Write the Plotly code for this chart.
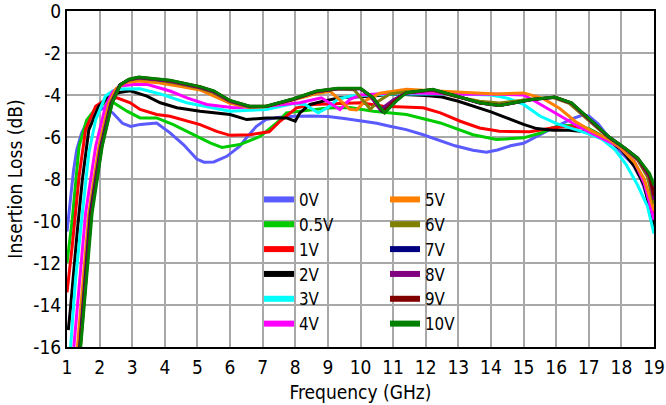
import plotly.graph_objects as go

# ---------------- data ----------------
names = ["0V", "0.5V", "1V", "2V", "3V", "4V", "5V", "6V", "7V", "8V", "9V", "10V"]
colors = ["#5A5AFF", "#00CC00", "#FF0000", "#000000", "#00FFFF", "#FF00FF",
          "#FF8000", "#808000", "#000080", "#800080", "#800000", "#008000"]

f_0V = [1.0, 1.1, 1.2, 1.3, 1.45, 1.65, 1.9, 2.15, 2.4, 2.7, 2.95, 3.25, 3.75, 4.16, 4.57, 4.98,
        5.2, 5.5, 5.9, 6.3, 6.5, 6.8, 7.1, 7.45, 7.95, 8.5, 9.0, 9.5, 10.0, 10.5, 10.9, 11.4,
        11.9, 12.4, 12.9, 13.45, 13.86, 14.2, 14.6, 15.0, 15.3, 15.6, 15.9, 16.2, 16.5, 16.8,
        17.0, 17.3, 17.6, 17.9, 18.35, 18.6, 18.8, 19.0]
il_0V = [-10.5, -9.0, -7.6, -6.6, -5.8, -5.2, -4.8, -4.6, -4.85, -5.35, -5.5, -5.4, -5.33, -5.8,
         -6.36, -7.05, -7.2, -7.19, -6.92, -6.44, -6.04, -5.5, -5.17, -5.07, -5.01, -5.0, -5.02,
         -5.12, -5.22, -5.35, -5.49, -5.65, -5.88, -6.15, -6.42, -6.63, -6.72, -6.62, -6.42,
         -6.3, -6.05, -5.8, -5.57, -5.35, -5.12, -4.97, -5.0, -5.4, -6.0, -6.6, -7.3, -8.0,
         -8.9, -10.4]

f_05V = [1.0, 1.16, 1.37, 1.6, 1.9, 2.2, 2.43, 2.84, 3.24, 3.75, 4.26, 4.88, 5.39, 5.75, 6.3,
         6.92, 7.43, 7.73, 8.14, 9.0, 9.67, 10.39, 11.41, 12.45, 13.45, 14.17, 15.0, 15.55,
         15.87, 16.2, 16.6, 17.0, 17.3, 17.6, 18.0, 18.4, 18.7, 19.0]
il_05V = [-12.0, -9.95, -6.44, -5.2, -4.6, -4.35, -4.37, -4.77, -5.09, -5.09, -5.41, -5.89,
          -6.28, -6.5, -6.36, -5.97, -5.33, -4.85, -4.77, -4.62, -4.6, -4.77, -4.93, -5.33,
          -5.89, -6.12, -6.04, -5.8, -5.57, -5.45, -5.45, -5.6, -5.85, -6.15, -6.6, -7.3,
          -8.2, -10.1]

f_1V = [1.0, 1.16, 1.37, 1.57, 1.88, 2.2, 2.53, 2.94, 3.24, 3.75, 4.16, 4.67, 5.08, 5.59, 6.0,
        6.61, 7.02, 7.2, 7.53, 8.04, 8.55, 9.2, 9.67, 10.0, 10.7, 11.92, 12.45, 13.06, 13.65,
        14.26, 15.2, 15.87, 16.3, 16.8, 17.2, 17.6, 18.0, 18.4, 18.7, 19.0]
il_1V = [-13.4, -11.2, -7.88, -5.65, -4.53, -4.2, -4.13, -4.37, -4.69, -4.93, -5.01, -5.25,
         -5.41, -5.73, -5.92, -5.89, -5.8, -5.75, -5.25, -4.61, -4.45, -4.4, -4.37, -4.37,
         -4.53, -4.61, -4.85, -5.25, -5.57, -5.73, -5.75, -5.57, -5.5, -5.55, -5.8, -6.15,
         -6.6, -7.3, -8.1, -9.8]

f_2V = [1.04, 1.11, 1.32, 1.47, 1.67, 1.98, 2.3, 2.6, 2.94, 3.45, 3.86, 4.37, 5.08, 6.0, 6.51,
        7.12, 7.73, 8.0, 8.14, 8.45, 8.86, 9.37, 10.39, 11.0, 12.0, 12.5, 13.0, 13.5, 14.0,
        14.5, 15.0, 15.4, 15.9, 16.4, 16.9, 17.3, 17.6, 18.0, 18.4, 18.7, 19.0]
il_2V = [-15.2, -14.1, -10.4, -8.04, -5.65, -4.53, -4.05, -3.88, -3.8, -4.05, -4.37, -4.61,
         -4.77, -4.93, -5.17, -5.09, -5.09, -5.25, -4.85, -4.45, -4.29, -4.13, -4.05, -3.95,
         -4.02, -4.1, -4.3, -4.55, -4.8, -5.1, -5.4, -5.6, -5.68, -5.68, -5.75, -5.95, -6.15,
         -6.6, -7.4, -8.3, -10.3]

f_3V = [1.11, 1.26, 1.47, 1.67, 1.88, 2.18, 2.4, 2.63, 3.24, 3.86, 4.67, 5.29, 6.0, 7.12, 7.94,
        8.3, 8.7, 9.0, 9.3, 9.7, 10.2, 11.0, 12.0, 13.0, 14.0, 14.5, 15.0, 15.5, 16.0, 16.5,
        17.0, 17.4, 17.8, 18.14, 18.5, 18.8, 19.0]
il_3V = [-16.0, -12.8, -9.63, -6.76, -5.17, -4.05, -3.8, -3.72, -3.7, -3.95, -4.37, -4.55,
         -4.77, -4.69, -4.41, -4.45, -4.85, -4.6, -4.2, -4.05, -4.0, -3.95, -3.95, -3.95, -4.0,
         -4.15, -4.45, -5.0, -5.35, -5.6, -5.85, -6.1, -6.6, -7.3, -8.3, -9.3, -10.6]

f_4V = [1.21, 1.57, 1.88, 2.18, 2.4, 2.63, 3.04, 3.45, 4.16, 4.7, 5.29, 6.1, 7.12, 8.14, 8.8,
        9.06, 9.37, 9.67, 10.0, 10.5, 11.1, 12.0, 13.14, 14.0, 15.0, 15.3, 15.7, 16.05, 16.67,
        17.28, 17.9, 18.4, 18.7, 19.0]
il_4V = [-16.0, -9.63, -6.44, -4.53, -3.85, -3.57, -3.5, -3.49, -3.81, -4.15, -4.45, -4.61,
         -4.53, -4.37, -4.13, -4.37, -4.69, -4.21, -4.0, -3.95, -3.89, -3.92, -3.97, -3.95,
         -4.0, -4.25, -4.6, -4.93, -5.49, -5.97, -6.44, -7.16, -8.2, -9.95]

f_5V = [1.32, 1.67, 1.98, 2.29, 2.5, 2.8, 3.2, 3.8, 4.5, 5.08, 6.0, 6.6, 7.1, 7.9, 8.6, 9.06,
        9.37, 9.67, 9.88, 10.18, 10.59, 11.41, 12.2, 13.0, 14.17, 15.0, 15.59, 16.1, 16.6,
        17.12, 17.6, 18.0, 18.4, 18.7, 19.0]
il_5V = [-16.0, -9.63, -6.44, -4.37, -3.7, -3.4, -3.33, -3.42, -3.6, -3.76, -4.4, -4.6, -4.55,
         -4.25, -3.95, -3.82, -4.24, -4.68, -4.71, -4.24, -3.92, -3.73, -3.8, -3.85, -3.95,
         -3.9, -4.16, -4.63, -5.27, -5.75, -6.1, -6.55, -7.2, -8.0, -9.5]

f_6V = [1.38, 1.7, 2.02, 2.33, 2.6, 2.9, 3.2, 3.7, 4.2, 5.08, 5.5, 6.0, 6.6, 7.1, 7.94, 8.65,
        9.3, 9.8, 10.05, 10.3, 10.55, 10.9, 11.4, 12.2, 12.94, 13.65, 14.26, 15.2, 15.9, 16.4,
        17.1, 17.6, 18.1, 18.5, 18.8, 19.0]
il_6V = [-16.0, -9.63, -6.44, -4.4, -3.55, -3.3, -3.22, -3.28, -3.4, -3.68, -3.9, -4.32,
         -4.58, -4.56, -4.22, -3.86, -3.72, -3.75, -4.2, -4.68, -4.3, -3.95, -3.85, -3.78,
         -4.08, -4.3, -4.38, -4.2, -4.12, -4.4, -5.35, -6.02, -6.55, -7.1, -7.9, -9.2]

f_7V = [1.39, 1.72, 2.04, 2.35, 2.62, 2.9, 3.2, 3.6, 4.16, 5.08, 5.5, 6.0, 6.6, 7.1, 7.94,
        8.65, 9.3, 10.0, 10.35, 10.65, 11.0, 11.4, 12.2, 12.94, 13.65, 14.26, 15.24, 15.96,
        16.47, 17.1, 17.6, 18.1, 18.5, 18.86, 19.0]
il_7V = [-16.0, -9.63, -6.44, -4.4, -3.52, -3.27, -3.17, -3.23, -3.33, -3.63, -3.83, -4.28,
         -4.55, -4.55, -4.2, -3.83, -3.7, -3.7, -4.1, -4.75, -4.25, -3.9, -3.75, -4.06, -4.38,
         -4.5, -4.23, -4.11, -4.38, -5.27, -5.98, -6.52, -7.0, -7.8, -8.7]

f_8V = [1.40, 1.74, 2.05, 2.36, 2.63, 2.9, 3.2, 3.6, 4.16, 5.08, 5.5, 6.0, 6.6, 7.1, 7.94,
        8.65, 9.3, 10.0, 10.3, 10.6, 10.95, 11.4, 12.2, 12.94, 13.65, 14.26, 15.24, 15.96,
        16.47, 17.1, 17.6, 18.1, 18.5, 18.86, 19.0]
il_8V = [-16.0, -9.63, -6.44, -4.4, -3.52, -3.28, -3.18, -3.24, -3.35, -3.65, -3.85, -4.3,
         -4.56, -4.55, -4.2, -3.84, -3.7, -3.7, -4.05, -4.7, -4.3, -3.9, -3.76, -4.06, -4.38,
         -4.5, -4.22, -4.11, -4.4, -5.3, -6.0, -6.55, -7.05, -7.9, -9.0]

f_9V = [1.41, 1.75, 2.07, 2.38, 2.64, 2.9, 3.2, 3.6, 4.16, 5.08, 5.5, 6.0, 6.6, 7.1, 7.94,
        8.65, 9.3, 10.0, 10.4, 10.7, 11.05, 11.4, 12.2, 12.94, 13.65, 14.26, 15.24, 15.96,
        16.47, 17.1, 17.6, 18.1, 18.5, 18.86, 19.0]
il_9V = [-16.0, -9.63, -6.44, -4.38, -3.5, -3.26, -3.15, -3.21, -3.31, -3.61, -3.81, -4.27,
         -4.54, -4.54, -4.19, -3.82, -3.69, -3.69, -4.15, -4.8, -4.28, -3.9, -3.74, -4.05, -4.37,
         -4.5, -4.21, -4.1, -4.38, -5.27, -5.98, -6.53, -7.02, -7.8, -8.8]

f_10V = [1.42, 1.77, 2.08, 2.39, 2.64, 2.9, 3.2, 3.6, 4.16, 5.08, 5.5, 6.0, 6.6, 7.1, 7.94,
         8.65, 9.3, 10.0, 10.39, 10.74, 11.1, 11.41, 12.22, 12.94, 13.65, 14.26, 15.24, 15.96,
         16.47, 17.1, 17.6, 18.1, 18.5, 18.86, 19.0]
il_10V = [-16.0, -9.63, -6.44, -4.37, -3.5, -3.25, -3.14, -3.2, -3.3, -3.6, -3.8, -4.26, -4.53,
          -4.53, -4.18, -3.81, -3.68, -3.68, -4.13, -4.85, -4.29, -3.89, -3.73, -4.05, -4.37,
          -4.5, -4.21, -4.1, -4.37, -5.25, -5.97, -6.52, -7.0, -7.72, -8.3]

freqs = [f_0V, f_05V, f_1V, f_2V, f_3V, f_4V, f_5V, f_6V, f_7V, f_8V, f_9V, f_10V]
losses = [il_0V, il_05V, il_1V, il_2V, il_3V, il_4V, il_5V, il_6V, il_7V, il_8V, il_9V, il_10V]

x_ticks = list(range(1, 20))
y_ticks = list(range(-16, 1, 2))

FONT = "DejaVu Sans Condensed, DejaVu Sans, sans-serif"

# plot-area geometry in pixels (used only for layout placement)
L, R, T, B = 67, 654, 11, 347
W, H = R - L, B - T

fig = go.Figure()

# measured curves
for n, c, fx, ly in zip(names, colors, freqs, losses):
    fig.add_trace(go.Scatter(x=fx, y=ly, mode="lines", name=n,
                             line=dict(color=c, width=3), showlegend=False,
                             hoverinfo="skip"))

# legend entries (two columns)
for i, (n, c) in enumerate(zip(names, colors)):
    fig.add_trace(go.Scatter(x=[None], y=[None], mode="lines", name=n,
                             line=dict(color=c, width=6), showlegend=True,
                             legend="legend" if i < 6 else "legend2"))

# white box behind the legend
fig.add_shape(type="rect", xref="paper", yref="paper",
              x0=(239 - L) / W, x1=(487 - L) / W, y0=0, y1=(B - 179) / H,
              fillcolor="white", line=dict(width=0), layer="between")

axis_common = dict(showgrid=True, gridcolor="#A8A8A8", gridwidth=2,
                   showline=True, linecolor="black", linewidth=2, mirror=True,
                   zeroline=False, ticks="", automargin=False,
                   ticklabeloverflow="allow",
                   tickfont=dict(family=FONT, size=19, color="black"))

fig.update_layout(
    width=666, height=405,
    margin=dict(l=L, r=666 - R, t=T, b=405 - B),
    paper_bgcolor="white", plot_bgcolor="white",
    font=dict(family=FONT, size=19, color="black"),
    xaxis=dict(range=[1, 19], tickmode="array", tickvals=x_ticks,
               ticktext=[str(v) for v in x_ticks], ticklabelstandoff=2,
               title=dict(text="Frequency (GHz)", font=dict(family=FONT, size=19), standoff=9),
               **axis_common),
    yaxis=dict(range=[-16, 0], tickmode="array", tickvals=y_ticks,
               ticktext=[str(v) for v in y_ticks],
               title=dict(text="Insertion Loss (dB)", font=dict(family=FONT, size=19), standoff=6),
               **axis_common),
    legend=dict(x=(259 - L) / W, y=(B - 182) / H, xanchor="left", yanchor="top",
                bgcolor="rgba(0,0,0,0)", borderwidth=0,
                font=dict(family=FONT, size=16.8, color="black")),
    legend2=dict(x=(385 - L) / W, y=(B - 182) / H, xanchor="left", yanchor="top",
                 bgcolor="rgba(0,0,0,0)", borderwidth=0,
                 font=dict(family=FONT, size=16.8, color="black")),
)

fig.write_html("out.html", config={"displayModeBar": False},
               post_script="document.body.style.margin='0px';")
